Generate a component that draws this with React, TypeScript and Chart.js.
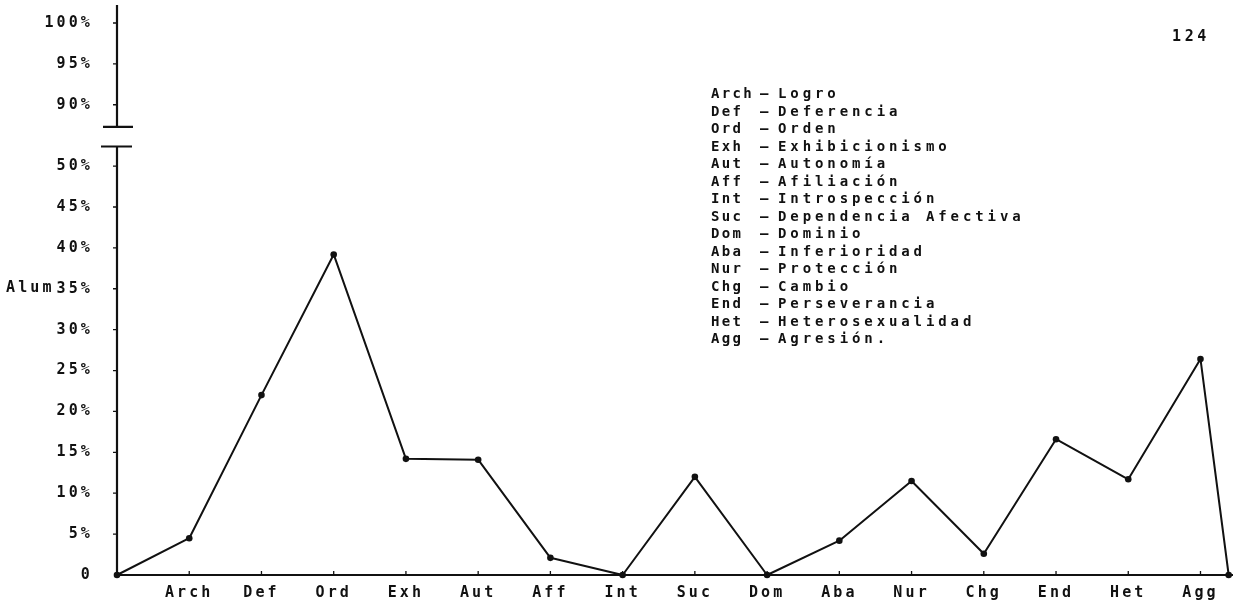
import React, { useEffect, useRef } from "react";
import { Chart, registerables } from "chart.js";

Chart.register(...registerables);

// ---- data ----
const categories = ["Arch", "Def", "Ord", "Exh", "Aut", "Aff", "Int", "Suc", "Dom", "Aba", "Nur", "Chg", "End", "Het", "Agg"];
const percentages = [4.5, 22.0, 39.2, 14.2, 14.1, 2.1, 0, 12.0, 0, 4.2, 11.5, 2.6, 16.6, 11.7, 26.4];
const startValue = 0;
const endValue = 0;
const endPosition = 15.39;

const lowerTicks = [0, 5, 10, 15, 20, 25, 30, 35, 40, 45, 50];
const upperTicks = [90, 95, 100];
const breakOffset = 32.5; // upper segment (90-100%) shown shifted down past the axis break
const breakLow = 52.4;
const breakHigh = 54.8;

const legendAbbr = ["Arch", "Def", "Ord", "Exh", "Aut", "Aff", "Int", "Suc", "Dom", "Aba", "Nur", "Chg", "End", "Het", "Agg"];
const legendNames = [
  "Logro",
  "Deferencia",
  "Orden",
  "Exhibicionismo",
  "Autonomía",
  "Afiliación",
  "Introspección",
  "Dependencia Afectiva",
  "Dominio",
  "Inferioridad",
  "Protección",
  "Cambio",
  "Perseverancia",
  "Heterosexualidad",
  "Agresión.",
];
const yAxisLabel = "Alum";
const pageNumber = "124";

const ink = "#111";
const mono = "'DejaVu Sans Mono', monospace";
const spacing = "3.1px";

export default function App() {
  const ref = useRef<HTMLCanvasElement>(null);

  useEffect(() => {
    const canvas = ref.current;
    if (!canvas) return;

    const spacingPlugin = {
      id: "spacing",
      beforeUpdate(chart: any) {
        chart.ctx.letterSpacing = spacing;
      },
      beforeDraw(chart: any) {
        chart.ctx.letterSpacing = spacing;
      },
    };

    const axesPlugin = {
      id: "axesBreak",
      beforeDatasetsDraw(chart: any) {
        const { ctx, chartArea, scales } = chart;
        const xs = scales.x;
        const ys = scales.y;
        const ax = chartArea.left;
        const yLow = ys.getPixelForValue(breakLow);
        const yHigh = ys.getPixelForValue(breakHigh);
        ctx.save();
        ctx.strokeStyle = ink;
        ctx.lineWidth = 2.2;
        ctx.beginPath();
        ctx.moveTo(ax, chartArea.bottom + 1);
        ctx.lineTo(ax, yLow);
        ctx.moveTo(ax, yHigh);
        ctx.lineTo(ax, chartArea.top);
        ctx.moveTo(ax - 16, yLow);
        ctx.lineTo(ax + 15, yLow);
        ctx.moveTo(ax - 14, yHigh);
        ctx.lineTo(ax + 16, yHigh);
        ctx.moveTo(ax - 1, chartArea.bottom);
        ctx.lineTo(chartArea.right, chartArea.bottom);
        ctx.stroke();
        ctx.lineWidth = 1.3;
        ctx.beginPath();
        ys.ticks.forEach((t: any) => {
          if (t.value === 0) return;
          const py = ys.getPixelForValue(t.value);
          ctx.moveTo(ax - 4, py);
          ctx.lineTo(ax, py);
        });
        xs.ticks.forEach((t: any) => {
          const px = xs.getPixelForValue(t.value);
          ctx.moveTo(px, chartArea.bottom);
          ctx.lineTo(px, chartArea.bottom - 4);
        });
        ctx.stroke();
        ctx.restore();
      },
    };

    const points = [
      { x: 0, y: startValue },
      ...categories.map((_, i) => ({ x: i + 1, y: percentages[i] })),
      { x: endPosition, y: endValue },
    ];

    const tickFont = { family: mono, size: 15, weight: "bold" as const };

    const chart = new Chart(canvas, {
      type: "line",
      data: {
        datasets: [
          {
            data: points,
            borderColor: ink,
            backgroundColor: ink,
            borderWidth: 2,
            borderJoinStyle: "round",
            pointRadius: 3.3,
            pointBackgroundColor: ink,
            pointBorderWidth: 0,
            tension: 0,
            clip: false as any,
          },
        ],
      },
      options: {
        animation: false,
        responsive: true,
        maintainAspectRatio: false,
        layout: { padding: { top: 5, right: 6, left: 0, bottom: 0 } },
        plugins: { legend: { display: false }, tooltip: { enabled: false } },
        scales: {
          x: {
            type: "linear",
            min: 0,
            max: 15.45,
            grid: { display: false, drawTicks: false },
            border: { display: false },
            afterBuildTicks: (s: any) => {
              s.ticks = categories.map((_, i) => ({ value: i + 1 }));
            },
            afterFit: (s: any) => {
              s.height = 29;
              s.paddingLeft = 0;
              s.paddingRight = 0;
            },
            ticks: {
              autoSkip: false,
              maxRotation: 0,
              padding: 9,
              color: ink,
              font: tickFont,
              callback: (v: any) => categories[Math.round(Number(v)) - 1] ?? "",
            },
          },
          y: {
            type: "linear",
            min: 0,
            max: 69.7,
            grid: { display: false, drawTicks: false },
            border: { display: false },
            afterBuildTicks: (s: any) => {
              s.ticks = [...lowerTicks, ...upperTicks.map((v) => v - breakOffset)].map((v) => ({ value: v }));
            },
            afterFit: (s: any) => {
              s.width = 117;
              s.paddingTop = 0;
              s.paddingBottom = 0;
            },
            ticks: {
              autoSkip: false,
              padding: 24,
              color: ink,
              font: tickFont,
              callback: (v: any) => {
                const n = Number(v);
                if (n === 0) return "0";
                return (n > 50 ? n + breakOffset : n) + "%";
              },
            },
          },
        },
      },
      plugins: [spacingPlugin, axesPlugin],
    });

    return () => chart.destroy();
  }, []);

  const textStyle: React.CSSProperties = {
    position: "absolute",
    fontFamily: mono,
    fontWeight: "bold",
    color: ink,
    whiteSpace: "pre",
  };

  return (
    <div style={{ position: "absolute", left: 0, top: 0, width: 1239, height: 604, background: "#fff" }}>
      <canvas ref={ref} />
      <div style={{ ...textStyle, left: 6, top: 279, fontSize: 15, lineHeight: "17px", letterSpacing: spacing }}>
        {yAxisLabel}
      </div>
      <div style={{ ...textStyle, left: 1172, top: 28, fontSize: 15, lineHeight: "17px", letterSpacing: "3.6px" }}>
        {pageNumber}
      </div>
      <div style={{ position: "absolute", left: 711, top: 85, fontSize: 14 }}>
        {legendAbbr.map((a, i) => (
          <div key={a} style={{ position: "relative", height: 17.5, lineHeight: "17.5px" }}>
            <span style={{ ...textStyle, left: 0, top: 0, letterSpacing: "2.3px" }}>{a}</span>
            <span style={{ ...textStyle, left: 49, top: 0 }}>–</span>
            <span style={{ ...textStyle, left: 67, top: 0, letterSpacing: "3.9px" }}>{legendNames[i]}</span>
          </div>
        ))}
      </div>
    </div>
  );
}
